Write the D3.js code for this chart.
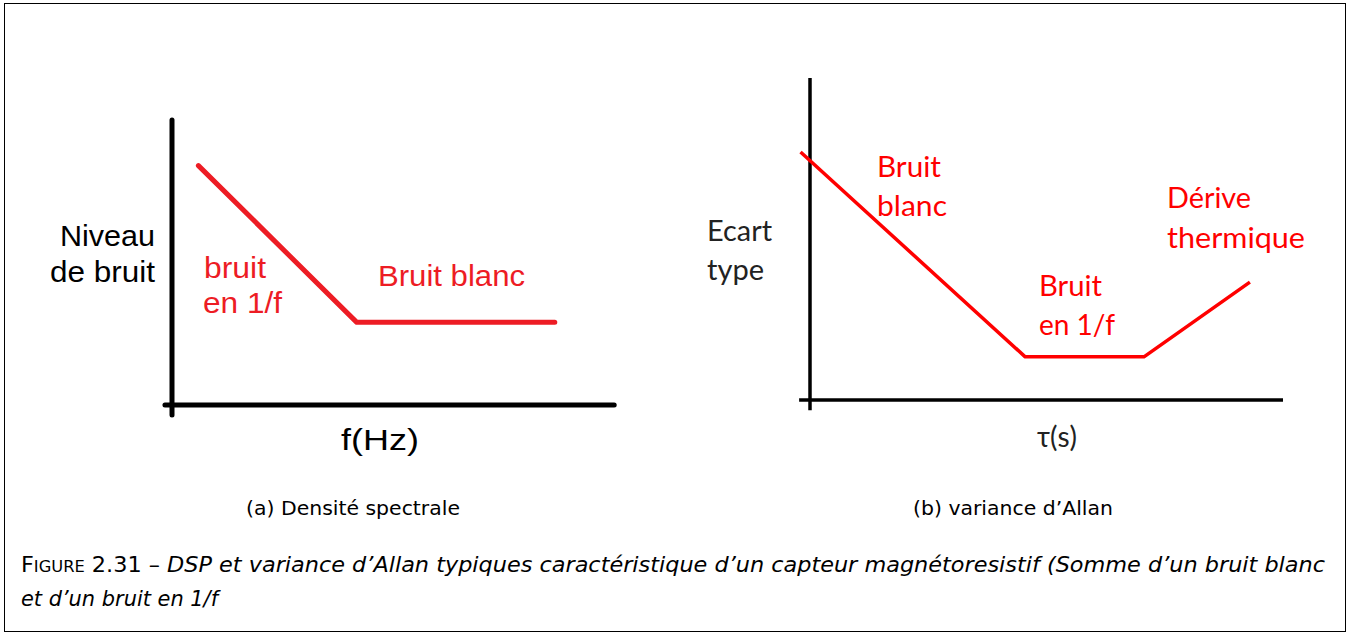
<!DOCTYPE html>
<html>
<head>
<meta charset="utf-8">
<script src="https://cdn.jsdelivr.net/npm/d3@7"></script>
<style>
  body { margin: 0; background: #fff; }
  svg { display: block; }
</style>
</head>
<body>
<div id="figure"></div>
<script>
const svgWidth = 1350;
const svgHeight = 636;

// (a) spectral density: 1/f slope then white noise plateau
const dspX = [6, 42, 87];
const dspY = [84, 29, 29];

// (b) Allan deviation: white noise, 1/f floor, thermal drift
const allanX = [-2, 45.5, 70.6, 93];
const allanY = [77, 13.4, 13.4, 36.6];

const dspLabels = ["bruit", "en 1/f", "Bruit blanc"];
const allanLabels = ["Bruit", "blanc", "Bruit", "en 1/f", "Dérive", "thermique"];

const svg = d3.select("#figure")
  .append("svg")
  .attr("width", svgWidth)
  .attr("height", svgHeight);

// outer frame
svg.append("rect")
  .attr("x", 4.5).attr("y", 3.5)
  .attr("width", 1341).attr("height", 628)
  .attr("fill", "none")
  .attr("stroke", "#000")
  .attr("stroke-width", 1);

// ---------- left chart ----------
const xA = d3.scaleLinear().domain([0, 100]).range([172, 612]);
const yA = d3.scaleLinear().domain([0, 100]).range([405, 120]);

const left = svg.append("g");

left.append("line")
  .attr("x1", xA(0)).attr("x2", xA(0))
  .attr("y1", yA(100)).attr("y2", yA(-3.5))
  .attr("stroke", "#000").attr("stroke-width", 5).attr("stroke-linecap", "round");
left.append("line")
  .attr("x1", xA(-1.6)).attr("x2", xA(100.5))
  .attr("y1", yA(0)).attr("y2", yA(0))
  .attr("stroke", "#000").attr("stroke-width", 5).attr("stroke-linecap", "round");

const lineA = d3.line().x(d => xA(d[0])).y(d => yA(d[1]));
left.append("path")
  .datum(d3.zip(dspX, dspY))
  .attr("d", lineA)
  .attr("fill", "none")
  .attr("stroke", "#ed1c24")
  .attr("stroke-width", 5)
  .attr("stroke-linecap", "round")
  .attr("stroke-linejoin", "round");

const fontA = "'Liberation Sans', Arial, sans-serif";
const sizeA = 29;
function textA(str, x, y, len, fill, anchor) {
  return left.append("text").attr("x", x).attr("y", y)
    .attr("text-anchor", anchor || "start")
    .attr("font-family", fontA).attr("font-size", sizeA)
    .attr("fill", fill || "#000")
    .attr("textLength", len).attr("lengthAdjust", "spacingAndGlyphs")
    .text(str);
}
textA("Niveau", 155, 246, 95, "#000", "end");
textA("de bruit", 155, 282, 105, "#000", "end");
textA(dspLabels[0], 204, 278, 62, "#ed1c24");
textA(dspLabels[1], 203, 313, 79, "#ed1c24");
textA(dspLabels[2], 378, 286, 147, "#ed1c24");
textA("f(Hz)", 380, 450, 78, "#000", "middle");

// ---------- right chart ----------
const xB = d3.scaleLinear().domain([0, 100]).range([810, 1283]);
const yB = d3.scaleLinear().domain([0, 100]).range([400, 78]);

const right = svg.append("g");

right.append("line")
  .attr("x1", xB(0)).attr("x2", xB(0))
  .attr("y1", yB(100)).attr("y2", yB(-3.2))
  .attr("stroke", "#000").attr("stroke-width", 3.5);
right.append("line")
  .attr("x1", xB(-2.3)).attr("x2", xB(100))
  .attr("y1", yB(0)).attr("y2", yB(0))
  .attr("stroke", "#000").attr("stroke-width", 3.5);

const lineB = d3.line().x(d => xB(d[0])).y(d => yB(d[1]));
right.append("path")
  .datum(d3.zip(allanX, allanY))
  .attr("d", lineB)
  .attr("fill", "none")
  .attr("stroke", "#ff0000")
  .attr("stroke-width", 3.5)
  .attr("stroke-linejoin", "round");

const fontB = "Lato, 'Open Sans', sans-serif";
const sizeB = 28;
const blackB = [["Ecart", 707, 241, 65], ["type", 707, 280, 57]];
blackB.forEach(t => right.append("text").attr("x", t[1]).attr("y", t[2])
  .attr("font-family", fontB).attr("font-size", sizeB).attr("fill", "#222")
  .attr("textLength", t[3]).attr("lengthAdjust", "spacingAndGlyphs").text(t[0]));

const redPos = [[877, 177, 64], [877, 216, 70], [1039, 296, 63], [1039, 335, 76], [1167, 208, 84], [1167, 248, 138]];
allanLabels.forEach((t, i) => right.append("text")
  .attr("x", redPos[i][0]).attr("y", redPos[i][1])
  .attr("font-family", fontB).attr("font-size", sizeB).attr("fill", "#ff0000")
  .attr("textLength", redPos[i][2]).attr("lengthAdjust", "spacingAndGlyphs").text(t));

right.append("text").attr("x", 1057).attr("y", 447).attr("text-anchor", "middle")
  .attr("font-family", fontB).attr("font-size", sizeB).attr("fill", "#222").text("τ(s)");

// ---------- captions ----------
const capFont = "'DejaVu Sans', sans-serif";
svg.append("text").attr("x", 246).attr("y", 515)
  .attr("font-family", capFont).attr("font-size", 20)
  .attr("textLength", 214).attr("lengthAdjust", "spacingAndGlyphs").text("(a) Densité spectrale");
svg.append("text").attr("x", 913).attr("y", 515)
  .attr("font-family", capFont).attr("font-size", 20)
  .attr("textLength", 200).attr("lengthAdjust", "spacingAndGlyphs").text("(b) variance d’Allan");

const cap1 = svg.append("text").attr("x", 21).attr("y", 572)
  .attr("font-family", capFont).attr("font-size", 22)
  .attr("textLength", 1304).attr("lengthAdjust", "spacingAndGlyphs");
cap1.append("tspan").text("F");
cap1.append("tspan").attr("font-size", 16).text("IGURE");
cap1.append("tspan").text(" 2.31 – ");
cap1.append("tspan").attr("font-style", "italic")
  .text("DSP et variance d’Allan typiques caractéristique d’un capteur magnétoresistif (Somme d’un bruit blanc");

svg.append("text").attr("x", 21).attr("y", 606)
  .attr("font-family", capFont).attr("font-size", 22).attr("font-style", "italic")
  .attr("textLength", 197).attr("lengthAdjust", "spacingAndGlyphs")
  .text("et d’un bruit en 1/f");
</script>
</body>
</html>
